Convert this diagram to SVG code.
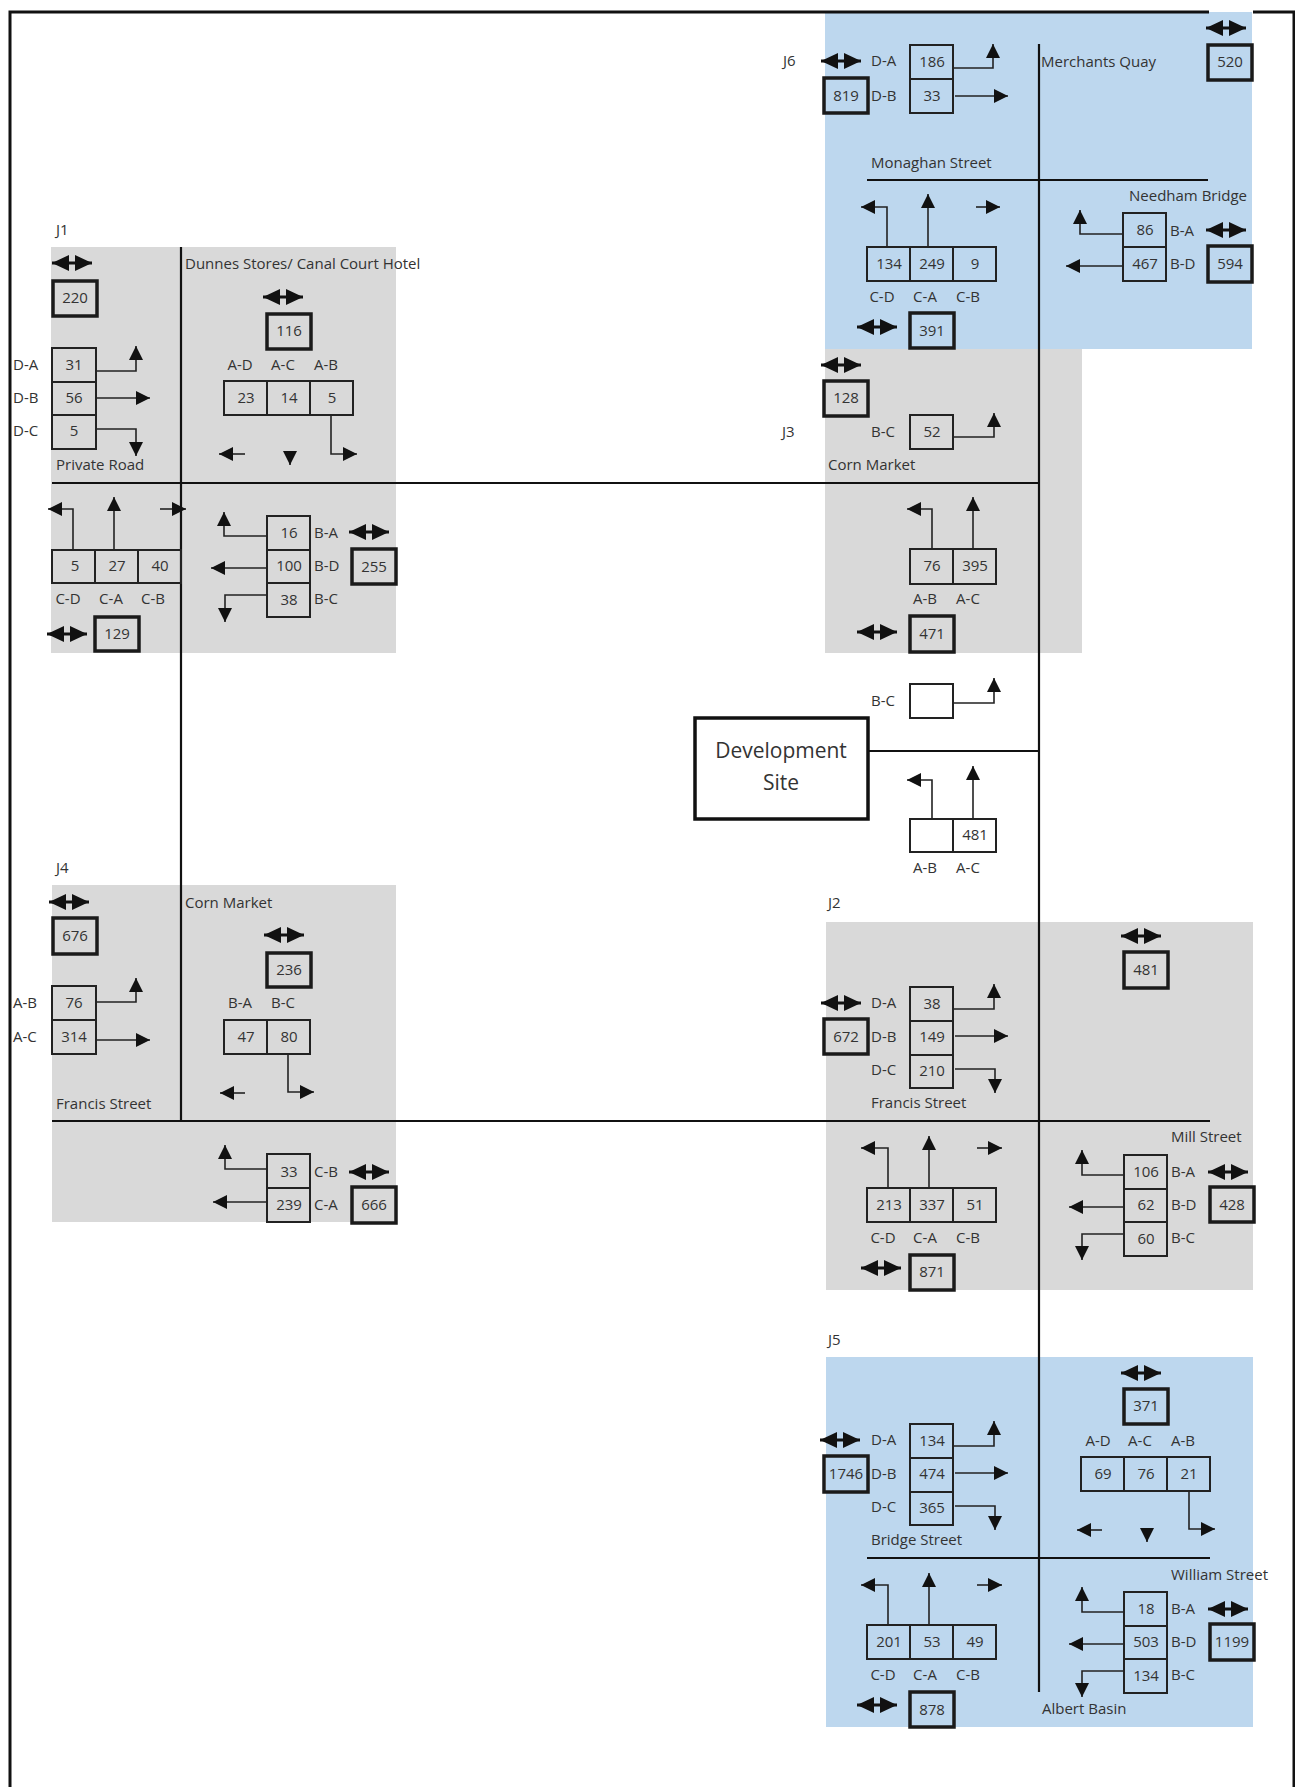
<svg xmlns="http://www.w3.org/2000/svg" width="1295" height="1787" viewBox="0 0 1295 1787">
<style>
text{font-family:"Open Sans","Liberation Sans",sans-serif;fill:#333;dominant-baseline:central;transform:translateY(-1px)}
.n{font-size:15px;text-anchor:middle}
.l{font-size:15px}
.m{font-size:15px;text-anchor:middle}
.s{font-size:15px}
.c{fill:none;stroke:#222;stroke-width:2}
.t{fill:none;stroke:#1a1a1a;stroke-width:3.5}
.a{fill:none;stroke:#222;stroke-width:1.6;marker-end:url(#h)}
.d{fill:none;stroke:#111;stroke-width:3;marker-start:url(#b);marker-end:url(#b)}
.r{fill:none;stroke:#111;stroke-width:2.2}
.f{fill:none;stroke:#111;stroke-width:3}
</style>
<defs>
<marker id="h" markerUnits="userSpaceOnUse" markerWidth="16" markerHeight="16" refX="14" refY="7" orient="auto"><path d="M0 0L14 7L0 14Z" fill="#111"/></marker>
<marker id="b" markerUnits="userSpaceOnUse" markerWidth="20" markerHeight="18" refX="17" refY="8" orient="auto-start-reverse"><path d="M0 0L17 8L0 16Z" fill="#111"/></marker>
</defs>
<rect width="1295" height="1787" fill="#fff"/>
<g id="backgrounds">
<rect x="51" y="247" width="345" height="406" fill="#d9d9d9"/>
<rect x="52" y="885" width="344" height="337" fill="#d9d9d9"/>
<rect x="825" y="349" width="257" height="304" fill="#d9d9d9"/>
<rect x="826" y="922" width="427" height="368" fill="#d9d9d9"/>
<rect x="825" y="12" width="427" height="337" fill="#bdd7ee"/>
<rect x="826" y="1357" width="427" height="370" fill="#bdd7ee"/>
</g>
<g id="frame">
<path class="f" d="M10 1787V12H1209M1253 12H1294V1787"/>
</g>
<g id="roads">
<path class="r" d="M181 247V1121M52 483H1039M52 1121H1210M1039 44V1692M867 180H1208M868 751H1039M867 1558H1210"/>
</g>
<g id="connectors">
<path class="d" d="M52 263H92"/><path class="d" d="M263 297H303"/><path class="d" d="M47 634H87"/><path class="d" d="M349 532H389"/>
<path class="a" d="M96 371H136V346"/><path class="a" d="M97 398H150"/><path class="a" d="M97 429H136V456"/>
<path class="a" d="M331 415V454H357"/><path class="a" d="M245 454H219"/><path class="a" d="M290 451V465"/>
<path class="a" d="M73 550V509H48"/><path class="a" d="M114 550V497"/><path class="a" d="M160 509H186"/>
<path class="a" d="M267 536H224V512"/><path class="a" d="M267 568H211"/><path class="a" d="M267 595H225V622"/>

<path class="d" d="M49 902H89"/><path class="d" d="M264 935H304"/><path class="d" d="M349 1172H389"/>
<path class="a" d="M96 1002H136V978"/><path class="a" d="M96 1040H150"/>
<path class="a" d="M288 1054V1092H314"/><path class="a" d="M245 1093H220"/>
<path class="a" d="M267 1169H225V1145"/><path class="a" d="M267 1202H213"/>

<path class="d" d="M821 61H861"/><path class="d" d="M1206 28H1246"/><path class="d" d="M857 327H897"/><path class="d" d="M1206 230H1246"/>
<path class="a" d="M953 68H993V44"/><path class="a" d="M955 96H1008"/>
<path class="a" d="M887 247V207H861"/><path class="a" d="M928 247V194"/><path class="a" d="M976 207H1000"/>
<path class="a" d="M1123 234H1080V210"/><path class="a" d="M1123 266H1066"/>

<path class="d" d="M821 365H861"/><path class="d" d="M857 632H897"/>
<path class="a" d="M953 437H994V413"/>
<path class="a" d="M932 549V509H907"/><path class="a" d="M973 549V497"/>
<path class="a" d="M953 703H994V678"/>
<path class="a" d="M932 819V780H907"/><path class="a" d="M973 819V766"/>

<path class="d" d="M821 1003H861"/><path class="d" d="M1121 936H1161"/><path class="d" d="M861 1268H901"/><path class="d" d="M1208 1172H1248"/>
<path class="a" d="M953 1009H994V984"/><path class="a" d="M955 1036H1008"/><path class="a" d="M955 1069H995V1093"/>
<path class="a" d="M888 1188V1148H861"/><path class="a" d="M929 1188V1136"/><path class="a" d="M977 1148H1002"/>
<path class="a" d="M1124 1175H1082V1150"/><path class="a" d="M1124 1207H1069"/><path class="a" d="M1124 1234H1082V1260"/>

<path class="d" d="M820 1440H860"/><path class="d" d="M1121 1373H1161"/><path class="d" d="M857 1705H897"/><path class="d" d="M1208 1609H1248"/>
<path class="a" d="M953 1446H994V1421"/><path class="a" d="M955 1473H1008"/><path class="a" d="M955 1506H995V1530"/>
<path class="a" d="M1189 1491V1529H1215"/><path class="a" d="M1102 1530H1077"/><path class="a" d="M1147 1528V1542"/>
<path class="a" d="M888 1625V1585H861"/><path class="a" d="M929 1625V1573"/><path class="a" d="M977 1585H1002"/>
<path class="a" d="M1124 1612H1082V1587"/><path class="a" d="M1124 1644H1069"/><path class="a" d="M1124 1671H1082V1697"/>
</g>

<g id="J1">
<text class="l" x="56" y="230">J1</text>
<text class="s" x="185" y="264">Dunnes Stores/ Canal Court Hotel</text>
<text class="s" x="56" y="465">Private Road</text>
<g id="j1-t220"><rect class="t" x="53" y="281" width="44" height="35"/><text class="n" x="75" y="298">220</text></g>
<g id="j1-t116"><rect class="t" x="267" y="314" width="44" height="35"/><text class="n" x="289" y="331">116</text></g>
<g id="j1-t129"><rect class="t" x="95" y="617" width="44" height="34"/><text class="n" x="117" y="634">129</text></g>
<g id="j1-t255"><rect class="t" x="352" y="549" width="44" height="35"/><text class="n" x="374" y="567">255</text></g>
<g id="j1-d">
<text class="l" x="13" y="365">D-A</text><text class="l" x="13" y="398">D-B</text><text class="l" x="13" y="431">D-C</text>
<rect class="c" x="52" y="348" width="44" height="34"/><text class="n" x="74" y="365">31</text>
<rect class="c" x="52" y="382" width="44" height="33"/><text class="n" x="74" y="398">56</text>
<rect class="c" x="52" y="415" width="44" height="34"/><text class="n" x="74" y="431">5</text>
</g>
<g id="j1-a">
<text class="m" x="240" y="365">A-D</text><text class="m" x="283" y="365">A-C</text><text class="m" x="326" y="365">A-B</text>
<rect class="c" x="224" y="381" width="43" height="34"/><text class="n" x="246" y="398">23</text>
<rect class="c" x="267" y="381" width="43" height="34"/><text class="n" x="289" y="398">14</text>
<rect class="c" x="310" y="381" width="43" height="34"/><text class="n" x="332" y="398">5</text>
</g>
<g id="j1-c">
<rect class="c" x="52" y="550" width="43" height="33"/><text class="n" x="75" y="566">5</text>
<rect class="c" x="95" y="550" width="43" height="33"/><text class="n" x="117" y="566">27</text>
<rect class="c" x="138" y="550" width="43" height="33"/><text class="n" x="160" y="566">40</text>
<text class="m" x="68" y="599">C-D</text><text class="m" x="111" y="599">C-A</text><text class="m" x="153" y="599">C-B</text>
</g>
<g id="j1-b">
<rect class="c" x="267" y="516" width="43" height="34"/><text class="n" x="289" y="533">16</text>
<rect class="c" x="267" y="550" width="43" height="33"/><text class="n" x="289" y="566">100</text>
<rect class="c" x="267" y="583" width="43" height="34"/><text class="n" x="289" y="600">38</text>
<text class="l" x="314" y="533">B-A</text><text class="l" x="314" y="566">B-D</text><text class="l" x="314" y="599">B-C</text>
</g>
</g>

<g id="J4">
<text class="l" x="56" y="868">J4</text>
<text class="s" x="185" y="903">Corn Market</text>
<text class="s" x="56" y="1104">Francis Street</text>
<g id="j4-t676"><rect class="t" x="53" y="918" width="44" height="36"/><text class="n" x="75" y="936">676</text></g>
<g id="j4-t236"><rect class="t" x="267" y="953" width="44" height="34"/><text class="n" x="289" y="970">236</text></g>
<g id="j4-t666"><rect class="t" x="352" y="1187" width="44" height="36"/><text class="n" x="374" y="1205">666</text></g>
<g id="j4-a">
<text class="l" x="13" y="1003">A-B</text><text class="l" x="13" y="1037">A-C</text>
<rect class="c" x="52" y="986" width="44" height="34"/><text class="n" x="74" y="1003">76</text>
<rect class="c" x="52" y="1020" width="44" height="34"/><text class="n" x="74" y="1037">314</text>
</g>
<g id="j4-b">
<text class="m" x="240" y="1003">B-A</text><text class="m" x="283" y="1003">B-C</text>
<rect class="c" x="224" y="1020" width="43" height="34"/><text class="n" x="246" y="1037">47</text>
<rect class="c" x="267" y="1020" width="43" height="34"/><text class="n" x="289" y="1037">80</text>
</g>
<g id="j4-c">
<rect class="c" x="267" y="1154" width="43" height="34"/><text class="n" x="289" y="1172">33</text>
<rect class="c" x="267" y="1188" width="43" height="34"/><text class="n" x="289" y="1205">239</text>
<text class="l" x="314" y="1172">C-B</text><text class="l" x="314" y="1205">C-A</text>
</g>
</g>

<g id="J6">
<text class="l" x="783" y="61">J6</text>
<text class="s" x="1041" y="62">Merchants Quay</text>
<text class="s" x="871" y="163">Monaghan Street</text>
<text class="s" x="1129" y="196">Needham Bridge</text>
<g id="j6-t819"><rect class="t" x="824" y="78" width="44" height="35"/><text class="n" x="846" y="96">819</text></g>
<g id="j6-t520"><rect class="t" x="1208" y="45" width="44" height="35"/><text class="n" x="1230" y="62">520</text></g>
<g id="j6-t391"><rect class="t" x="910" y="313" width="44" height="35"/><text class="n" x="932" y="331">391</text></g>
<g id="j6-t594"><rect class="t" x="1208" y="246" width="44" height="36"/><text class="n" x="1230" y="264">594</text></g>
<g id="j6-d">
<text class="l" x="871" y="61">D-A</text><text class="l" x="871" y="96">D-B</text>
<rect class="c" x="910" y="45" width="43" height="34"/><text class="n" x="932" y="62">186</text>
<rect class="c" x="910" y="79" width="43" height="34"/><text class="n" x="932" y="96">33</text>
</g>
<g id="j6-c">
<rect class="c" x="867" y="247" width="43" height="34"/><text class="n" x="889" y="264">134</text>
<rect class="c" x="910" y="247" width="43" height="34"/><text class="n" x="932" y="264">249</text>
<rect class="c" x="953" y="247" width="43" height="34"/><text class="n" x="975" y="264">9</text>
<text class="m" x="882" y="297">C-D</text><text class="m" x="925" y="297">C-A</text><text class="m" x="968" y="297">C-B</text>
</g>
<g id="j6-b">
<rect class="c" x="1123" y="213" width="43" height="34"/><text class="n" x="1145" y="230">86</text>
<rect class="c" x="1123" y="247" width="43" height="34"/><text class="n" x="1145" y="264">467</text>
<text class="l" x="1170" y="231">B-A</text><text class="l" x="1170" y="264">B-D</text>
</g>
</g>

<g id="J3">
<text class="l" x="782" y="432">J3</text>
<text class="s" x="828" y="465">Corn Market</text>
<g id="j3-t128"><rect class="t" x="824" y="381" width="44" height="35"/><text class="n" x="846" y="398">128</text></g>
<g id="j3-t471"><rect class="t" x="910" y="616" width="44" height="36"/><text class="n" x="932" y="634">471</text></g>
<g id="j3-b">
<text class="l" x="871" y="432">B-C</text>
<rect class="c" x="910" y="415" width="43" height="34"/><text class="n" x="932" y="432">52</text>
</g>
<g id="j3-a">
<rect class="c" x="910" y="549" width="43" height="35"/><text class="n" x="932" y="566">76</text>
<rect class="c" x="953" y="549" width="43" height="35"/><text class="n" x="975" y="566">395</text>
<text class="m" x="925" y="599">A-B</text><text class="m" x="968" y="599">A-C</text>
</g>
</g>

<g id="site">
<rect x="695" y="718" width="173" height="101" fill="#fff" stroke="#111" stroke-width="3.5"/>
<text x="781" y="751" font-size="21" text-anchor="middle">Development</text>
<text x="781" y="783" font-size="21" text-anchor="middle">Site</text>
<g id="site-b">
<text class="l" x="871" y="701">B-C</text>
<rect class="c" x="910" y="684" width="43" height="34"/>
</g>
<g id="site-a">
<rect class="c" x="910" y="819" width="43" height="33"/>
<rect class="c" x="953" y="819" width="43" height="33"/><text class="n" x="975" y="835">481</text>
<text class="m" x="925" y="868">A-B</text><text class="m" x="968" y="868">A-C</text>
</g>
</g>

<g id="J2">
<text class="l" x="828" y="903">J2</text>
<text class="s" x="871" y="1103">Francis Street</text>
<text class="s" x="1171" y="1137">Mill Street</text>
<g id="j2-t672"><rect class="t" x="824" y="1019" width="44" height="35"/><text class="n" x="846" y="1037">672</text></g>
<g id="j2-t481"><rect class="t" x="1124" y="952" width="44" height="36"/><text class="n" x="1146" y="970">481</text></g>
<g id="j2-t871"><rect class="t" x="910" y="1255" width="44" height="35"/><text class="n" x="932" y="1272">871</text></g>
<g id="j2-t428"><rect class="t" x="1210" y="1187" width="44" height="35"/><text class="n" x="1232" y="1205">428</text></g>
<g id="j2-d">
<text class="l" x="871" y="1003">D-A</text><text class="l" x="871" y="1037">D-B</text><text class="l" x="871" y="1070">D-C</text>
<rect class="c" x="910" y="987" width="43" height="34"/><text class="n" x="932" y="1004">38</text>
<rect class="c" x="910" y="1021" width="43" height="34"/><text class="n" x="932" y="1037">149</text>
<rect class="c" x="910" y="1055" width="43" height="33"/><text class="n" x="932" y="1071">210</text>
</g>
<g id="j2-c">
<rect class="c" x="867" y="1188" width="43" height="34"/><text class="n" x="889" y="1205">213</text>
<rect class="c" x="910" y="1188" width="43" height="34"/><text class="n" x="932" y="1205">337</text>
<rect class="c" x="953" y="1188" width="43" height="34"/><text class="n" x="975" y="1205">51</text>
<text class="m" x="883" y="1238">C-D</text><text class="m" x="925" y="1238">C-A</text><text class="m" x="968" y="1238">C-B</text>
</g>
<g id="j2-b">
<rect class="c" x="1124" y="1155" width="43" height="34"/><text class="n" x="1146" y="1172">106</text>
<rect class="c" x="1124" y="1189" width="43" height="33"/><text class="n" x="1146" y="1205">62</text>
<rect class="c" x="1124" y="1222" width="43" height="34"/><text class="n" x="1146" y="1239">60</text>
<text class="l" x="1171" y="1172">B-A</text><text class="l" x="1171" y="1205">B-D</text><text class="l" x="1171" y="1238">B-C</text>
</g>
</g>

<g id="J5">
<text class="l" x="828" y="1340">J5</text>
<text class="s" x="871" y="1540">Bridge Street</text>
<text class="s" x="1171" y="1575">William Street</text>
<text class="s" x="1042" y="1709">Albert Basin</text>
<g id="j5-t1746"><rect class="t" x="824" y="1456" width="44" height="36"/><text class="n" x="846" y="1474">1746</text></g>
<g id="j5-t371"><rect class="t" x="1124" y="1389" width="44" height="35"/><text class="n" x="1146" y="1406">371</text></g>
<g id="j5-t878"><rect class="t" x="910" y="1692" width="44" height="35"/><text class="n" x="932" y="1710">878</text></g>
<g id="j5-t1199"><rect class="t" x="1210" y="1624" width="44" height="36"/><text class="n" x="1232" y="1642">1199</text></g>
<g id="j5-d">
<text class="l" x="871" y="1440">D-A</text><text class="l" x="871" y="1474">D-B</text><text class="l" x="871" y="1507">D-C</text>
<rect class="c" x="910" y="1424" width="43" height="34"/><text class="n" x="932" y="1441">134</text>
<rect class="c" x="910" y="1458" width="43" height="34"/><text class="n" x="932" y="1474">474</text>
<rect class="c" x="910" y="1492" width="43" height="33"/><text class="n" x="932" y="1508">365</text>
</g>
<g id="j5-a">
<text class="m" x="1098" y="1441">A-D</text><text class="m" x="1140" y="1441">A-C</text><text class="m" x="1183" y="1441">A-B</text>
<rect class="c" x="1081" y="1457" width="43" height="34"/><text class="n" x="1103" y="1474">69</text>
<rect class="c" x="1124" y="1457" width="43" height="34"/><text class="n" x="1146" y="1474">76</text>
<rect class="c" x="1167" y="1457" width="43" height="34"/><text class="n" x="1189" y="1474">21</text>
</g>
<g id="j5-c">
<rect class="c" x="867" y="1625" width="43" height="34"/><text class="n" x="889" y="1642">201</text>
<rect class="c" x="910" y="1625" width="43" height="34"/><text class="n" x="932" y="1642">53</text>
<rect class="c" x="953" y="1625" width="43" height="34"/><text class="n" x="975" y="1642">49</text>
<text class="m" x="883" y="1675">C-D</text><text class="m" x="925" y="1675">C-A</text><text class="m" x="968" y="1675">C-B</text>
</g>
<g id="j5-b">
<rect class="c" x="1124" y="1592" width="43" height="34"/><text class="n" x="1146" y="1609">18</text>
<rect class="c" x="1124" y="1626" width="43" height="33"/><text class="n" x="1146" y="1642">503</text>
<rect class="c" x="1124" y="1659" width="43" height="34"/><text class="n" x="1146" y="1676">134</text>
<text class="l" x="1171" y="1609">B-A</text><text class="l" x="1171" y="1642">B-D</text><text class="l" x="1171" y="1675">B-C</text>
</g>
</g>
</svg>
